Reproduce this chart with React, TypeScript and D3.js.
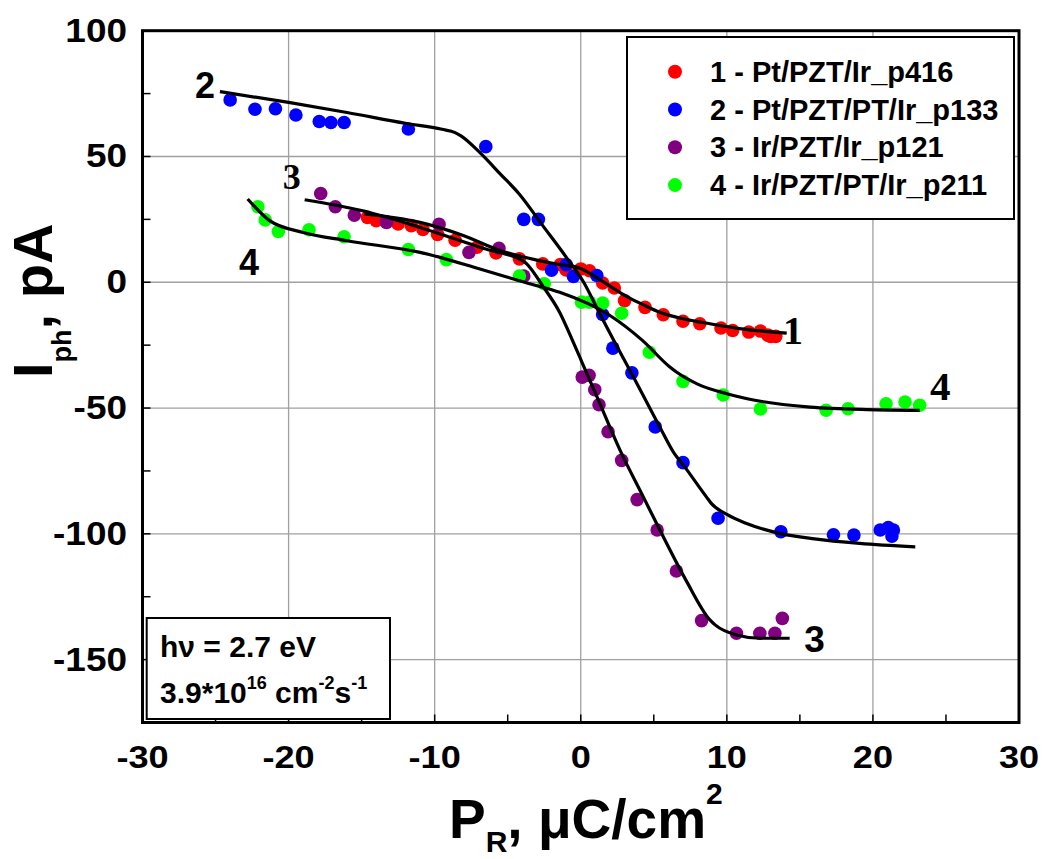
import React from "react";
import * as d3 from "d3";

type Pt = [number, number];

const X_TICKS = [-30, -20, -10, 0, 10, 20, 30];
const X_MINOR = [-25, -15, -5, 5, 15, 25];
const Y_TICKS = [100, 50, 0, -50, -100, -150];
const Y_MINOR = [75, 25, -25, -75, -125];

const SERIES_NAMES = [
  "1 - Pt/PZT/Ir_p416",
  "2 - Pt/PZT/PT/Ir_p133",
  "3 - Ir/PZT/Ir_p121",
  "4 - Ir/PZT/PT/Ir_p211",
];
const SERIES_COLORS = ["#ff0000", "#0000ff", "#800080", "#00ff00"];

const S1_POINTS: Pt[] = [
  [-14.6, 25.8], [-14.0, 24.5], [-13.3, 24.0], [-12.5, 23.2], [-11.6, 22.5], [-10.8, 21.0],
  [-9.8, 19.0], [-8.6, 16.7], [-7.1, 13.9], [-5.8, 11.7], [-4.2, 9.3], [-2.6, 7.3],
  [-1.4, 7.0], [-1.0, 4.9], [0, 5.3], [0.6, 4.6], [1.5, -0.3], [2.3, -2.3], [3.0, -7.3],
  [4.4, -10], [5.65, -12.9], [7.0, -15.5], [8.15, -16.5], [9.6, -18.2], [10.4, -19.2],
  [11.5, -19.8], [12.3, -19.4], [12.8, -21], [13.0, -21.5], [13.35, -21.5],
];
const S2_POINTS: Pt[] = [
  [-24.0, 72.5], [-22.3, 68.8], [-20.9, 69.0], [-19.5, 66.5], [-17.9, 63.9], [-17.1, 63.5],
  [-16.2, 63.5], [-11.8, 60.9], [-6.5, 53.9], [-3.9, 25], [-2.9, 25], [-2.0, 4.8],
  [-1.0, 7.0], [-0.5, 2.3], [1.1, 2.7], [1.5, -12.8], [2.2, -26.2], [3.5, -36],
  [5.1, -57.5], [7.0, -71.7], [9.4, -93.8], [13.7, -99.2], [17.3, -100.4], [18.7, -100.5],
  [20.5, -98.5], [21.05, -97.5], [21.4, -98.5], [21.3, -100.9],
];
const S3_POINTS: Pt[] = [
  [-17.8, 35.3], [-16.8, 30.0], [-15.5, 26.7], [-13.3, 23.8], [-9.7, 23.0], [-7.65, 11.9],
  [-5.6, 13.5], [-3.9, 2.5], [0.1, -37.7], [0.57, -37], [0.96, -42.7], [1.25, -48.7],
  [1.87, -59.4], [2.8, -70.8], [3.86, -86.4], [5.23, -98.5], [6.55, -114.8], [8.27, -134.5],
  [10.66, -139.5], [12.26, -139.5], [13.29, -139.5], [13.8, -133.6],
];
const S4_POINTS: Pt[] = [
  [-22.1, 30.0], [-21.6, 24.8], [-20.7, 20.2], [-18.6, 20.9], [-16.2, 18.1], [-11.8, 13.0],
  [-9.2, 9.0], [-4.2, 2.5], [-2.5, -0.6], [0.05, -7.9], [0.6, -7.9], [1.5, -8.3],
  [2.8, -12.3], [4.7, -27.8], [7.0, -39.4], [9.75, -44.8], [12.3, -50.4], [16.8, -50.9],
  [18.3, -50.3], [20.9, -48.3], [22.2, -47.6], [23.2, -48.9],
];

const FIT1: Pt[] = [
  [-14.8, 27.2], [-11, 23.8], [-8, 18.5], [-5.5, 12.6], [-3, 8.8], [-1.4, 7.0], [0, 5.5],
  [0.84, 2.7], [2.0, -1.5], [3.1, -5.5], [4.3, -9], [5.4, -11.9], [7, -14.5], [8.84, -16.5],
  [11, -18.5], [14.1, -20.2],
];
const FIT2: Pt[] = [
  [-24.7, 75.8], [-20, 71.5], [-16, 67.5], [-12, 63.2], [-9.5, 60.8], [-8.6, 59.5], [-8.2, 58.2],
  [-6.9, 51.5], [-5.5, 43], [-4.2, 35], [-2.6, 22.5], [-1.0, 10], [0.2, 0], [1.3, -12.5],
  [2.2, -22.5], [3.5, -36.5], [4.5, -47.5], [5.5, -58.5], [6.4, -68], [7.0, -72.5],
  [8.6, -85.3], [8.95, -88], [10, -92.3], [11.35, -95.9], [13.6, -99.8], [16, -102],
  [19.1, -103.8], [22.9, -105.2],
];
const FIT3: Pt[] = [
  [-18.9, 32.8], [-15, 28.5], [-11, 21.8], [-6.5, 13.2], [-3.9, 8.3], [-3.7, 7.3],
  [-2.6, -1.5], [-1.44, -12], [-0.5, -24], [0.1, -32], [1.07, -45], [2.67, -66.5],
  [4.3, -85.5], [5.4, -98.3], [7.2, -118.4], [8.84, -134.2], [9.2, -136.2], [10.66, -140.2],
  [12.26, -141.5], [14.3, -141.5],
];
const FIT4: Pt[] = [
  [-22.8, 33.1], [-21.3, 24.5], [-19.0, 19.8], [-16, 16.5], [-11, 11.9], [-6.9, 5.3],
  [-3.5, -0.6], [-1.44, -4], [2.0, -13.2], [4.2, -23], [6.1, -33.7], [6.55, -35.7],
  [8, -40.5], [10, -44.3], [12.5, -47.5], [15.7, -49.6], [19.6, -50.6], [23.2, -50.9],
];

// curve labels: text, data x (start), data y (baseline), font family, size
const CURVE_LABELS: { t: string; x: number; y: number; serif: boolean; size: number }[] = [
  { t: "2", x: -26.4, y: 73.3, serif: false, size: 36 },
  { t: "3", x: -20.4, y: 37.1, serif: true, size: 36 },
  { t: "4", x: -23.4, y: 2.7, serif: false, size: 36 },
  { t: "1", x: 13.85, y: -24.4, serif: true, size: 40 },
  { t: "4", x: 23.9, y: -46.7, serif: true, size: 41 },
  { t: "3", x: 15.3, y: -146.8, serif: false, size: 37 },
];

const W = 1043;
const H = 859;
const M = { left: 142.5, right: 1019, top: 30.7, bottom: 722.5 };
const SANS = "'Liberation Sans', Arial, sans-serif";
const SERIF = "'Liberation Serif', 'Times New Roman', serif";

export default function App() {
  const x = d3.scaleLinear().domain([-30, 30]).range([M.left, M.right]);
  const y = d3.scaleLinear().domain([-175, 100]).range([M.bottom, M.top]);
  const line = d3
    .line<Pt>()
    .x((d) => x(d[0]))
    .y((d) => y(d[1]))
    .curve(d3.curveMonotoneX);

  const points = [S1_POINTS, S2_POINTS, S3_POINTS, S4_POINTS];
  const fits = [FIT1, FIT2, FIT3, FIT4];
  const gridColor = "#a0a0a0";

  return (
    <svg
      width={W}
      height={H}
      style={{ position: "absolute", left: 0, top: 0, background: "#fff" }}
      fontFamily={SANS}
    >
      <rect x={0} y={0} width={W} height={H} fill="#fff" />
      {/* grid */}
      {X_TICKS.filter((t) => t > -30 && t < 30).map((t) => (
        <line key={"gx" + t} x1={x(t)} x2={x(t)} y1={M.top} y2={M.bottom} stroke={gridColor} strokeWidth={1.3} />
      ))}
      {Y_TICKS.filter((t) => t < 100).map((t) => (
        <line key={"gy" + t} x1={M.left} x2={M.right} y1={y(t)} y2={y(t)} stroke={gridColor} strokeWidth={1.3} />
      ))}
      {/* ticks */}
      {[...X_TICKS, ...X_MINOR].map((t) => (
        <line key={"tx" + t} x1={x(t)} x2={x(t)} y1={M.bottom} y2={M.bottom - 8} stroke="#000" strokeWidth={1.5} />
      ))}
      {[...Y_TICKS, ...Y_MINOR].map((t) => (
        <line key={"ty" + t} x1={M.left} x2={M.left + 8} y1={y(t)} y2={y(t)} stroke="#000" strokeWidth={1.5} />
      ))}
      {/* data points */}
      {points.map((pts, i) =>
        pts.map((p, j) => (
          <circle key={"p" + i + "_" + j} cx={x(p[0])} cy={y(p[1])} r={6.8} fill={SERIES_COLORS[i]} />
        ))
      )}
      {/* fit curves */}
      {fits.map((f, i) => (
        <path key={"f" + i} d={line(f) || ""} fill="none" stroke="#000" strokeWidth={3.2} strokeLinejoin="round" />
      ))}
      {/* frame */}
      <rect
        x={M.left}
        y={M.top}
        width={M.right - M.left}
        height={M.bottom - M.top}
        fill="none"
        stroke="#000"
        strokeWidth={3}
      />
      {/* tick labels */}
      {Y_TICKS.map((t) => (
        <g key={"yl" + t} transform={`translate(127,${y(t) + 11}) scale(1.12,1)`}>
          <text textAnchor="end" fontSize={33} fontWeight="bold" fill="#000">
            {t}
          </text>
        </g>
      ))}
      {X_TICKS.map((t) => (
        <g key={"xl" + t} transform={`translate(${x(t)},768) scale(1.13,1)`}>
          <text textAnchor="middle" fontSize={32} fontWeight="bold" fill="#000">
            {t}
          </text>
        </g>
      ))}
      {/* curve labels */}
      {CURVE_LABELS.map((l, i) => (
        <text
          key={"cl" + i}
          x={x(l.x)}
          y={y(l.y)}
          fontSize={l.size}
          fontWeight="bold"
          fontFamily={l.serif ? SERIF : SANS}
          fill="#000"
        >
          {l.t}
        </text>
      ))}
      {/* legend */}
      <rect x={627} y={37} width={387} height={182} fill="#fff" stroke="#000" strokeWidth={2} />
      {SERIES_NAMES.map((n, i) => (
        <g key={"lg" + i} transform={`translate(0,${71.7 + i * 37.8})`}>
          <circle cx={675} cy={0} r={7} fill={SERIES_COLORS[i]} />
          <text x={710} y={10} fontSize={29} fontWeight="bold" fill="#000">
            {n}
          </text>
        </g>
      ))}
      {/* info box */}
      <rect x={146.7} y={618} width={243.3} height={101} fill="#fff" stroke="#000" strokeWidth={2} />
      <text x={160} y={657} fontSize={30} fontWeight="bold" fill="#000">
        hν = 2.7 eV
      </text>
      <text x={160} y={703} fontSize={30} fontWeight="bold" fill="#000">
        3.9*10
        <tspan fontSize={18} dy={-14}>16</tspan>
        <tspan fontSize={30} dy={14}> cm</tspan>
        <tspan fontSize={18} dy={-14}>-2</tspan>
        <tspan fontSize={30} dy={14}>s</tspan>
        <tspan fontSize={18} dy={-14}>-1</tspan>
      </text>
      {/* axis titles */}
      <text transform="translate(52,378) rotate(-90)" fontSize={56} fontWeight="bold" fill="#000">
        I
        <tspan fontSize={27} dy={19}>ph</tspan>
        <tspan fontSize={56} dy={-19}>, pA</tspan>
      </text>
      <text x={449} y={838} fontSize={55} fontWeight="bold" fill="#000">
        P
        <tspan fontSize={30} dy={14}>R</tspan>
        <tspan fontSize={55} dy={-14}>, μC/cm</tspan>
        <tspan fontSize={30} dy={-34}>2</tspan>
      </text>
    </svg>
  );
}
